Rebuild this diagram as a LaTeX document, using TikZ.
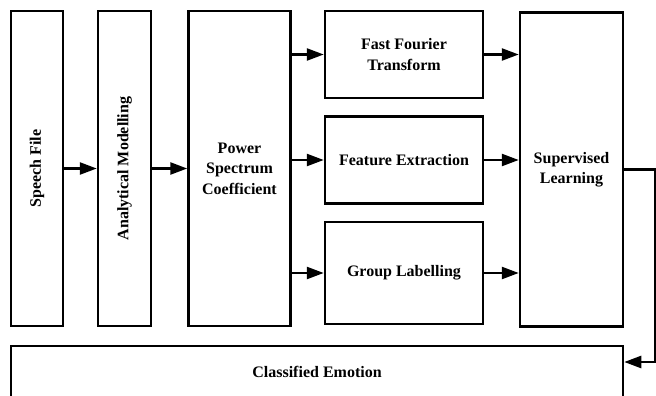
\documentclass[tikz,border=0pt]{standalone}
\usepackage{fontspec}
\setmainfont{Liberation Serif}
\usetikzlibrary{positioning,arrows.meta}

\begin{document}
\begin{tikzpicture}
[x=1pt,y=-1pt,
 block/.style={draw,line width=2.5pt,inner sep=0pt,align=center,
   font=\fontsize{16}{20.5}\selectfont\bfseries},
 arr/.style={line width=2.5pt,-{Triangle[length=17pt,width=12pt]}}]
\useasboundingbox (0,0) rectangle (656,396);
\node[block,minimum width=52pt,minimum height=315pt](speech) at (37,168.5){}; 
\node[rotate=90,font=\fontsize{16}{20.5}\selectfont\bfseries] at (speech){Speech File};
\node[block,minimum width=53pt,minimum height=315pt](model) at (124.5,168.5){}; 
\node[rotate=90,font=\fontsize{16}{20.5}\selectfont\bfseries] at (model){Analytical Modelling};
\node[block,minimum width=102pt,minimum height=315pt](power) at (239.5,168.5){Power\\Spectrum\\Coefficient}; 
\node[block,minimum width=158pt,minimum height=87pt](fft) at (404,54.5){Fast Fourier\\Transform}; 
\node[block,minimum width=158pt,minimum height=87pt](feat) at (404,160){Feature Extraction}; 
\node[block,minimum width=158pt,minimum height=102pt](group) at (404,273){Group Labelling}; 
\node[block,minimum width=103pt,minimum height=314pt](sup) at (571.5,169.5){Supervised\\Learning}; 
\node[block,minimum width=612pt,minimum height=52pt](emo) at (317,372){Classified Emotion}; 
\coordinate (fb) at (655,362);
\draw[arr] (speech.east) -- (model.west |- speech.east);
\draw[arr] (model.east) -- (power.west |- model.east);
\draw[arr] (power.east |- fft.west) -- (fft.west);
\draw[arr] (power.east |- feat.west) -- (feat.west);
\draw[arr] (power.east |- group.west) -- (group.west);
\draw[arr] (fft.east) -- (sup.west |- fft.east);
\draw[arr] (feat.east) -- (sup.west |- feat.east);
\draw[arr] (group.east) -- (sup.west |- group.east);
\draw[arr] (sup.east) -- (sup.east -| fb) -- (fb) -- (emo.east |- fb);
\end{tikzpicture}
\end{document}
